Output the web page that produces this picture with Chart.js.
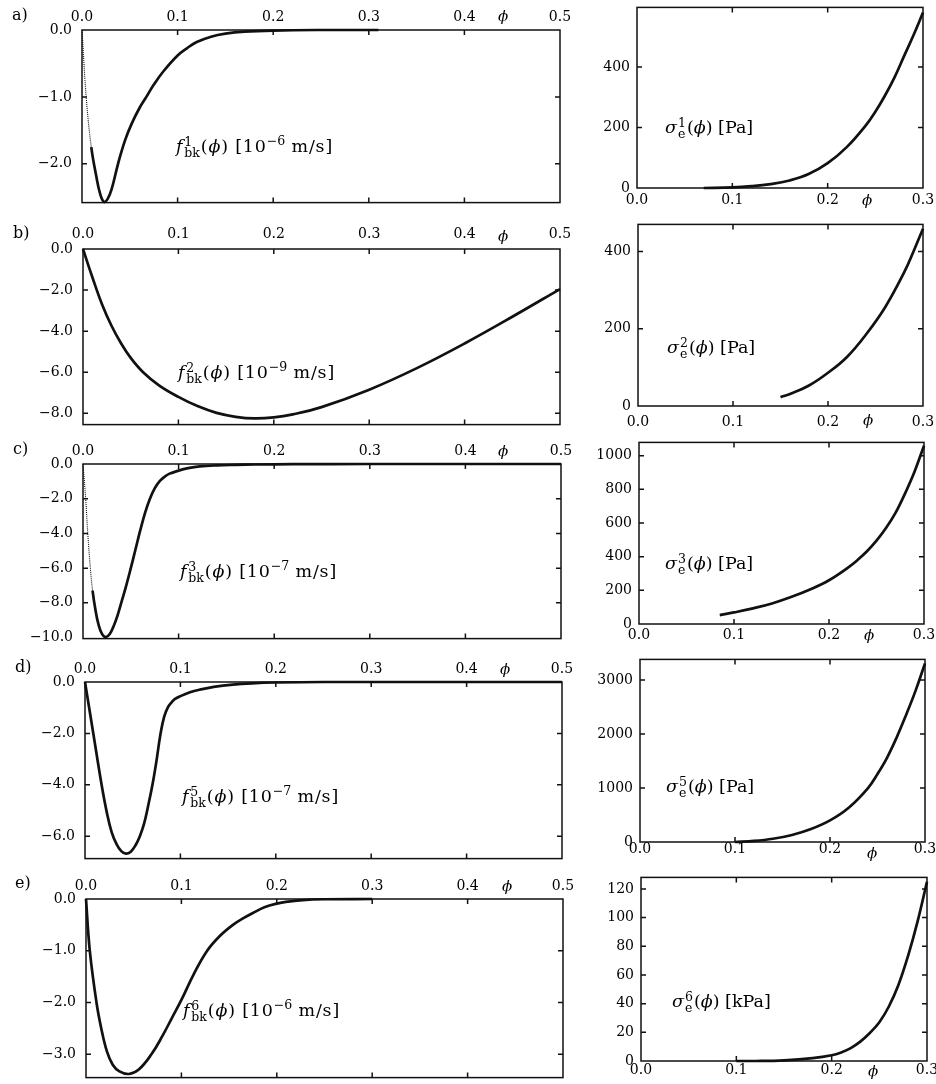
<!DOCTYPE html>
<html>
<head>
<meta charset="utf-8">
<script src="https://cdn.jsdelivr.net/npm/chart.js@4"></script>
<style>
  body { margin: 0; background: #fff; }
  #page { position: relative; width: 936px; height: 1084px; overflow: hidden; background: #fff; }
  canvas { position: absolute; }
  .txt { position: absolute; font-family: "DejaVu Serif", serif; color: #000; white-space: nowrap; line-height: 20px; will-change: transform; }
  .ann { font-size: 17.5px; }
  .ann.f { letter-spacing: 0.8px; }
  .ss { display: inline-block; vertical-align: -5px; font-size: 12.5px; line-height: 11px; margin: 0 1px; letter-spacing: 0; }
  .ss span { display: block; }
  .sup { font-size: 12.5px; position: relative; top: -7px; letter-spacing: 0; }
  .lett { font-size: 16px; }
  .phi { font-size: 15px; font-style: italic; }
</style>
</head>
<body>
<div id="page">
  <div class="txt lett" style="left:12px;top:5px">a)</div>
  <div class="txt lett" style="left:13px;top:223px">b)</div>
  <div class="txt lett" style="left:13px;top:439px">c)</div>
  <div class="txt lett" style="left:15px;top:657px">d)</div>
  <div class="txt lett" style="left:15px;top:873px">e)</div>

  <div class="txt phi" style="left:498px;top:6px">ϕ</div>
  <div class="txt phi" style="left:498px;top:226px">ϕ</div>
  <div class="txt phi" style="left:498px;top:441px">ϕ</div>
  <div class="txt phi" style="left:500px;top:659px">ϕ</div>
  <div class="txt phi" style="left:502px;top:876px">ϕ</div>

  <div class="txt phi" style="left:862px;top:190px">ϕ</div>
  <div class="txt phi" style="left:863px;top:410px">ϕ</div>
  <div class="txt phi" style="left:864px;top:625px">ϕ</div>
  <div class="txt phi" style="left:867px;top:843px">ϕ</div>
  <div class="txt phi" style="left:868px;top:1061px">ϕ</div>

  <div class="txt ann f" style="left:176px;top:136px"><i>f</i><span class="ss"><span>1</span><span>bk</span></span>(<i>ϕ</i>) [10<span class="sup">−6</span> m/s]</div>
  <div class="txt ann f" style="left:178px;top:362px"><i>f</i><span class="ss"><span>2</span><span>bk</span></span>(<i>ϕ</i>) [10<span class="sup">−9</span> m/s]</div>
  <div class="txt ann f" style="left:180px;top:561px"><i>f</i><span class="ss"><span>3</span><span>bk</span></span>(<i>ϕ</i>) [10<span class="sup">−7</span> m/s]</div>
  <div class="txt ann f" style="left:182px;top:786px"><i>f</i><span class="ss"><span>5</span><span>bk</span></span>(<i>ϕ</i>) [10<span class="sup">−7</span> m/s]</div>
  <div class="txt ann f" style="left:183px;top:1000px"><i>f</i><span class="ss"><span>6</span><span>bk</span></span>(<i>ϕ</i>) [10<span class="sup">−6</span> m/s]</div>

  <div class="txt ann" style="left:665px;top:117px"><i>σ</i><span class="ss"><span>1</span><span>e</span></span>(<i>ϕ</i>) [Pa]</div>
  <div class="txt ann" style="left:667px;top:337px"><i>σ</i><span class="ss"><span>2</span><span>e</span></span>(<i>ϕ</i>) [Pa]</div>
  <div class="txt ann" style="left:665px;top:553px"><i>σ</i><span class="ss"><span>3</span><span>e</span></span>(<i>ϕ</i>) [Pa]</div>
  <div class="txt ann" style="left:666px;top:776px"><i>σ</i><span class="ss"><span>5</span><span>e</span></span>(<i>ϕ</i>) [Pa]</div>
  <div class="txt ann" style="left:672px;top:991px"><i>σ</i><span class="ss"><span>6</span><span>e</span></span>(<i>ϕ</i>) [kPa]</div>
</div>
<script>
// ==============================
// Dados
// ==============================
const xTicksEsq = [0, 0.1, 0.2, 0.3, 0.4, 0.5];
const xTicksDir = [0, 0.1, 0.2, 0.3];

// a) f_bk^1 [1e-6 m/s]
const phiA1 = [0, 0.0045, 0.0097, 0.015, 0.019, 0.023, 0.027, 0.031, 0.0377, 0.045, 0.052, 0.06, 0.0673, 0.075, 0.085, 0.1, 0.11, 0.12, 0.135, 0.15, 0.17, 0.2, 0.25, 0.31];
const fA1 = [0, -1.02, -1.75, -2.19, -2.45, -2.57, -2.52, -2.38, -2.0, -1.65, -1.4, -1.17, -1.0, -0.82, -0.62, -0.38, -0.27, -0.18, -0.1, -0.055, -0.025, -0.008, 0, 0];
const yTicksA1 = [0, -1, -2];
// a) sigma_e^1 [Pa]
const phiA2 = [0.07, 0.1, 0.12, 0.14, 0.16, 0.18, 0.2, 0.22, 0.24, 0.25, 0.26, 0.27, 0.28, 0.29, 0.3];
const sA2 = [0, 2, 6, 13, 25, 46, 82, 135, 207, 252, 305, 365, 435, 505, 580];
const yTicksA2 = [0, 200, 400];

// b) f_bk^2 [1e-9 m/s]
const phiB1 = [0, 0.01, 0.02, 0.03, 0.04, 0.05, 0.063, 0.08, 0.1, 0.12, 0.14, 0.16, 0.18, 0.2, 0.22, 0.25, 0.3, 0.35, 0.4, 0.45, 0.5];
const fB1 = [0, -1.4, -2.7, -3.75, -4.6, -5.3, -6.0, -6.65, -7.2, -7.65, -7.98, -8.17, -8.25, -8.2, -8.05, -7.7, -6.85, -5.8, -4.6, -3.3, -1.95];
const yTicksB1 = [0, -2, -4, -6, -8];
// b) sigma_e^2 [Pa]
const phiB2 = [0.15, 0.16, 0.18, 0.2, 0.22, 0.24, 0.26, 0.28, 0.29, 0.3];
const sB2 = [23, 31, 53, 86, 127, 185, 255, 345, 400, 459];
const yTicksB2 = [0, 200, 400];

// c) f_bk^3 [1e-7 m/s]
const phiC1 = [0, 0.0028, 0.005, 0.0077, 0.01, 0.013, 0.016, 0.02, 0.024, 0.028, 0.032, 0.036, 0.04, 0.045, 0.05, 0.055, 0.06, 0.065, 0.07, 0.075, 0.08, 0.085, 0.09, 0.1, 0.11, 0.122, 0.14, 0.16, 0.18, 0.22, 0.3, 0.5];
const fC1 = [0, -2, -4, -6, -7.3, -8.4, -9.2, -9.8, -9.97, -9.8, -9.35, -8.75, -8.0, -7.05, -6.0, -4.9, -3.8, -2.8, -2.0, -1.4, -1.0, -0.75, -0.57, -0.38, -0.24, -0.14, -0.08, -0.05, -0.03, -0.01, 0, 0];
const yTicksC1 = [0, -2, -4, -6, -8, -10];
// c) sigma_e^3 [Pa]
const phiC2 = [0.085, 0.1, 0.12, 0.14, 0.16, 0.18, 0.2, 0.22, 0.23, 0.24, 0.25, 0.26, 0.27, 0.28, 0.29, 0.3];
const sC2 = [53, 69, 93, 122, 160, 205, 260, 335, 380, 432, 495, 570, 660, 775, 905, 1059];
const yTicksC2 = [0, 200, 400, 600, 800, 1000];

// d) f_bk^5 [1e-7 m/s]
const phiD1 = [0, 0.0087, 0.0174, 0.023, 0.028, 0.033, 0.038, 0.043, 0.048, 0.053, 0.0575, 0.062, 0.066, 0.0707, 0.075, 0.079, 0.083, 0.087, 0.091, 0.094, 0.1, 0.11, 0.12, 0.135, 0.155, 0.175, 0.2, 0.25, 0.5];
const fD1 = [0, -2, -4, -5.1, -5.85, -6.3, -6.58, -6.68, -6.6, -6.35, -6.0, -5.5, -4.85, -4.0, -3.05, -2.05, -1.35, -0.98, -0.78, -0.67, -0.55, -0.4, -0.3, -0.19, -0.1, -0.05, -0.02, 0, 0];
const yTicksD1 = [0, -2, -4, -6];
// d) sigma_e^5 [Pa]
const phiD2 = [0.1, 0.12, 0.14, 0.16, 0.18, 0.2, 0.22, 0.24, 0.25, 0.26, 0.27, 0.28, 0.29, 0.3];
const sD2 = [0, 20, 60, 130, 240, 400, 640, 1000, 1260, 1560, 1930, 2350, 2800, 3309];
const yTicksD2 = [0, 1000, 2000, 3000];

// e) f_bk^6 [1e-6 m/s]
const phiE1 = [0, 0.004, 0.011, 0.016, 0.022, 0.028, 0.035, 0.045, 0.055, 0.0686, 0.08, 0.09, 0.1, 0.113, 0.127, 0.14, 0.154, 0.165, 0.175, 0.187, 0.2, 0.212, 0.224, 0.25, 0.3];
const fE1 = [0, -1.0, -2.0, -2.5, -2.95, -3.2, -3.33, -3.38, -3.3, -3.0, -2.65, -2.3, -1.95, -1.45, -1.0, -0.72, -0.5, -0.37, -0.27, -0.16, -0.09, -0.05, -0.025, -0.005, 0];
const yTicksE1 = [0, -1, -2, -3];
// e) sigma_e^6 [kPa]
const phiE2 = [0.1, 0.12, 0.15, 0.18, 0.2, 0.21, 0.22, 0.23, 0.24, 0.25, 0.26, 0.27, 0.28, 0.29, 0.3];
const sE2 = [0, 0, 0.5, 2, 4, 6, 9, 13.5, 19.5, 27, 38, 53, 73, 97, 125];
const yTicksE2 = [0, 20, 40, 60, 80, 100, 120];

// ==============================
// Estilo
// ==============================
const fonteTick = { family: "'DejaVu Serif', serif", size: 14 };
const cor = "#000";
const fmtX = (v) => v.toFixed(1);
const fmtF = (v) => (v < 0 ? "\u2212" : "") + Math.abs(v).toFixed(1);
const fmtS = (v) => String(v);

// curva; trecho inicial pontilhado quando pont > 0
function linha(phi, val, pont) {
  const lim = pont || 0;
  return {
    data: phi.map((x, i) => ({ x: x, y: val[i] })),
    borderColor: "#111",
    borderWidth: 2.7,
    pointRadius: 0,
    fill: false,
    tension: 0.4,
    clip: false,
    segment: {
      borderWidth: (ctx) => (ctx.p1.parsed.x <= lim ? 1.1 : undefined),
      borderDash: (ctx) => (ctx.p1.parsed.x <= lim ? [1, 1] : undefined),
    },
  };
}

// moldura + marcas para dentro
const moldura = {
  id: "moldura",
  afterDatasetsDraw(chart) {
    const { ctx, chartArea: a, scales } = chart;
    const t = 5;
    ctx.save();
    ctx.strokeStyle = "#111";
    ctx.lineWidth = 1.5;
    ctx.strokeRect(a.left, a.top, a.right - a.left, a.bottom - a.top);
    ctx.beginPath();
    scales.x.ticks.forEach((tk) => {
      const px = scales.x.getPixelForValue(tk.value);
      if (px <= a.left + 2 || px >= a.right - 2) return;
      ctx.moveTo(px, a.top);
      ctx.lineTo(px, a.top + t);
      ctx.moveTo(px, a.bottom);
      ctx.lineTo(px, a.bottom - t);
    });
    scales.y.ticks.forEach((tk) => {
      const py = scales.y.getPixelForValue(tk.value);
      if (py <= a.top + 2 || py >= a.bottom - 2) return;
      ctx.moveTo(a.left, py);
      ctx.lineTo(a.left + t, py);
      ctx.moveTo(a.right, py);
      ctx.lineTo(a.right - t, py);
    });
    ctx.stroke();
    ctx.restore();
  },
};

function painel(p) {
  const cv = document.createElement("canvas");
  cv.width = p.box.w;
  cv.height = p.box.h;
  cv.style.left = p.box.l + "px";
  cv.style.top = p.box.t + "px";
  document.getElementById("page").appendChild(cv);

  const topo = p.xPos === "top";
  const yW = p.area.L - p.box.l;
  const xH = topo ? p.area.T - p.box.t : p.box.t + p.box.h - p.area.B;

  new Chart(cv, {
    type: "line",
    data: { datasets: p.datasets },
    options: {
      responsive: false,
      animation: false,
      events: [],
      layout: {
        padding: {
          left: 0,
          right: p.box.l + p.box.w - p.area.R,
          top: topo ? 0 : p.area.T - p.box.t,
          bottom: topo ? p.box.t + p.box.h - p.area.B : 0,
        },
      },
      plugins: { legend: { display: false }, tooltip: { enabled: false } },
      scales: {
        x: {
          type: "linear",
          position: p.xPos,
          min: 0,
          max: p.xMax,
          afterBuildTicks: (s) => {
            s.ticks = p.xTicks.map((v) => ({ value: v }));
          },
          afterFit: (s) => {
            s.height = xH;
          },
          ticks: { callback: fmtX, padding: p.xPad, font: fonteTick, color: cor, maxRotation: 0, autoSkip: false },
          grid: { display: false, drawTicks: false },
          border: { display: false },
        },
        y: {
          type: "linear",
          min: p.yMin,
          max: p.yMax,
          afterBuildTicks: (s) => {
            s.ticks = p.yTicks.map((v) => ({ value: v }));
          },
          afterFit: (s) => {
            s.width = yW;
          },
          ticks: { callback: p.yFmt, padding: p.yPad, font: fonteTick, color: cor, autoSkip: false },
          grid: { display: false, drawTicks: false },
          border: { display: false },
        },
      },
    },
    plugins: [moldura],
  });
}

// ==============================
// Painéis da esquerda (f_bk)
// ==============================
const esq = (box, area, xPad, yMin, yTicks, datasets) =>
  painel({ box, area, xPos: "top", xMax: 0.5, xTicks: xTicksEsq, xPad, yMin, yMax: 0, yTicks, yFmt: fmtF, yPad: 10, datasets });

esq({ l: 30, t: 5, w: 550, h: 216 }, { L: 82, T: 30, R: 560, B: 207 }, 4, -2.58, yTicksA1, [linha(phiA1, fA1, 0.0097)]);
esq({ l: 30, t: 224, w: 550, h: 219 }, { L: 83, T: 249, R: 560, B: 429 }, 6.5, -8.55, yTicksB1, [linha(phiB1, fB1)]);
esq({ l: 30, t: 439, w: 550, h: 218 }, { L: 83, T: 464, R: 561, B: 643 }, 4, -10.06, yTicksC1, [linha(phiC1, fC1, 0.01)]);
esq({ l: 30, t: 657, w: 550, h: 220 }, { L: 85, T: 682, R: 562, B: 863 }, 4.5, -6.87, yTicksD1, [linha(phiD1, fD1)]);
esq({ l: 30, t: 874, w: 550, h: 222 }, { L: 86, T: 899, R: 563, B: 1082 }, 4.5, -3.45, yTicksE1, [linha(phiE1, fE1)]);

// ==============================
// Painéis da direita (sigma_e)
// ==============================
const dir = (box, area, xPad, yMax, yTicks, datasets) =>
  painel({ box, area, xPos: "bottom", xMax: 0.3, xTicks: xTicksDir, xPad, yMin: 0, yMax, yTicks, yFmt: fmtS, yPad: 7, datasets });

dir({ l: 585, t: -8, w: 360, h: 226 }, { L: 637, T: 7, R: 923, B: 188 }, 3.5, 597, yTicksA2, [linha(phiA2, sA2)]);
dir({ l: 585, t: 209, w: 360, h: 227 }, { L: 638, T: 224, R: 923, B: 406 }, 7.5, 470, yTicksB2, [linha(phiB2, sB2)]);
dir({ l: 585, t: 427, w: 360, h: 227 }, { L: 639, T: 442, R: 924, B: 624 }, 2.5, 1079, yTicksC2, [linha(phiC2, sC2)]);
dir({ l: 585, t: 644, w: 360, h: 228 }, { L: 640, T: 659, R: 925, B: 842 }, -1.5, 3383, yTicksD2, [linha(phiD2, sD2)]);
dir({ l: 585, t: 862, w: 360, h: 229 }, { L: 641, T: 877, R: 927, B: 1061 }, 0.5, 128, yTicksE2, [linha(phiE2, sE2)]);
</script>
</body>
</html>
